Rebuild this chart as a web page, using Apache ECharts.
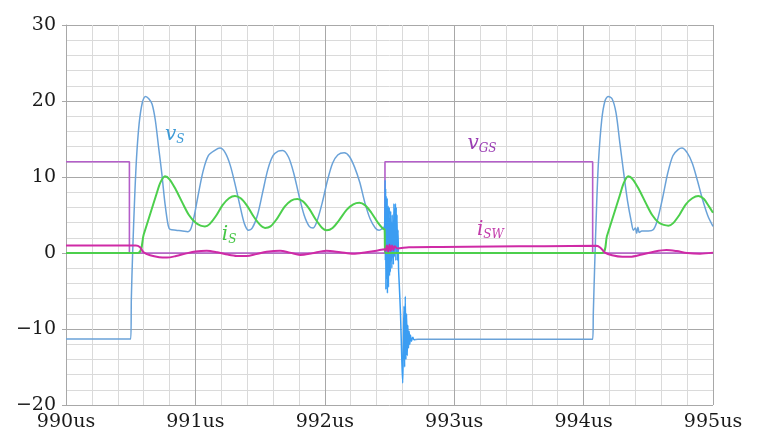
<!DOCTYPE html>
<html>
<head>
<meta charset="utf-8">
<script src="https://cdn.jsdelivr.net/npm/echarts@6/dist/echarts.min.js"></script>
<style>
  html, body { margin: 0; padding: 0; background: #ffffff; }
  #chart { width: 757px; height: 440px; }
</style>
</head>
<body>
<div id="chart"></div>
<script>
// Time axis (microseconds) and value axis ticks
const xTicks = [990, 991, 992, 993, 994, 995];
const yTicks = [-20, -10, 0, 10, 20, 30];

// Gate-source voltage v_GS [time us, V]
const vGS = [
  [990.00, 12], [990.49, 12], [990.49, 0], [992.465, 0], [992.465, 12],
  [994.07, 12], [994.07, 0], [995.00, 0]
];

// Switch voltage v_S [time us, V]
const vS = [
  [990.00, -11.3], [990.50, -11.3], [990.505, -6], [990.515, 0], [990.53, 7],
  [990.545, 12.5], [990.565, 17], [990.59, 19.8], [990.615, 20.6], [990.64, 20.3],
  [990.665, 19.6], [990.69, 17.5], [990.715, 14], [990.74, 10.5], [990.765, 6.5],
  [990.79, 3.6], [990.805, 3.1], [990.85, 3.0], [990.90, 2.9], [990.94, 2.8],
  [990.965, 3.2], [990.99, 4.8], [991.02, 7.5], [991.06, 10.8], [991.10, 12.8],
  [991.15, 13.5], [991.19, 13.8], [991.23, 13.2], [991.27, 11.5], [991.31, 8.8],
  [991.35, 5.8], [991.38, 3.8], [991.41, 3.0], [991.44, 3.3], [991.48, 5.0],
  [991.52, 8.0], [991.56, 11.0], [991.60, 12.8], [991.64, 13.4], [991.675, 13.5],
  [991.72, 12.6], [991.76, 10.5], [991.80, 7.6], [991.84, 5.0], [991.88, 3.5],
  [991.91, 3.3], [991.94, 4.2], [991.98, 6.6], [992.02, 9.5], [992.06, 11.8],
  [992.10, 12.9], [992.15, 13.2], [992.19, 12.7], [992.23, 11.3], [992.27, 9.3],
  [992.31, 6.6], [992.35, 4.5], [992.39, 3.3], [992.42, 3.0], [992.45, 3.3],
  [992.462, 3.5], [992.466, 9.6], [992.468, -1], [992.470, 8.5], [992.472, -4.8],
  [992.474, 7.5], [992.476, 0], [992.478, 6.8], [992.480, -3.5], [992.482, 7.2],
  [992.484, -5.3], [992.486, 5.5], [992.488, -2], [992.490, 6.2], [992.492, -4.5],
  [992.494, 5.0], [992.496, -1.5], [992.498, 6.0], [992.500, -3], [992.503, 4.5],
  [992.506, -2.5], [992.509, 5.5], [992.512, -1], [992.515, 4], [992.518, -2.0],
  [992.521, 5], [992.524, -0.5], [992.527, 3.5], [992.530, -1.5], [992.534, 6.5],
  [992.537, -0.5], [992.540, 5.8], [992.543, 0.5], [992.546, 6.5], [992.549, -1],
  [992.552, 6.0], [992.555, 0], [992.558, 5], [992.562, -1], [992.566, 3],
  [992.570, -2], [992.575, -4], [992.585, -8], [992.595, -14], [992.602, -17.1],
  [992.607, -12], [992.612, -7], [992.617, -15], [992.622, -5.7], [992.627, -14],
  [992.632, -8], [992.637, -13.5], [992.642, -9.5], [992.647, -12.5], [992.652, -10.3],
  [992.657, -12], [992.662, -10.8], [992.67, -11.6], [992.68, -11.1], [992.69, -11.4],
  [992.72, -11.35], [994.07, -11.35], [994.075, -8], [994.085, -2], [994.10, 6],
  [994.115, 12], [994.14, 17.5], [994.165, 20], [994.19, 20.6], [994.22, 20.3],
  [994.25, 18.5], [994.28, 14.5], [994.31, 10.5], [994.34, 6.8], [994.37, 4.0],
  [994.385, 3.0], [994.40, 3.3], [994.41, 2.6], [994.42, 3.4], [994.43, 2.7],
  [994.45, 2.9], [994.50, 2.9], [994.54, 3.1], [994.57, 4.3], [994.61, 7.2],
  [994.65, 10.5], [994.69, 12.8], [994.73, 13.6], [994.76, 13.8], [994.80, 13.2],
  [994.84, 11.8], [994.88, 9.5], [994.92, 7.0], [994.96, 4.9], [995.00, 3.5]
];

// Switch current i_S [time us, A]
const iS = [
  [990.00, 0], [990.555, 0], [990.60, 2.4], [990.65, 5.1], [990.70, 7.8],
  [990.73, 9.3], [990.765, 10.1], [990.80, 9.7], [990.85, 8.3], [990.90, 6.6],
  [990.95, 5.0], [991.00, 4.0], [991.04, 3.6], [991.074, 3.5], [991.11, 3.8],
  [991.16, 4.9], [991.21, 6.3], [991.26, 7.2], [991.306, 7.5], [991.35, 7.2],
  [991.40, 6.2], [991.45, 4.8], [991.50, 3.7], [991.538, 3.3], [991.58, 3.5],
  [991.63, 4.5], [991.69, 6.1], [991.74, 6.9], [991.788, 7.1], [991.83, 6.8],
  [991.88, 5.8], [991.93, 4.4], [991.98, 3.3], [992.015, 3.0], [992.06, 3.3],
  [992.11, 4.3], [992.17, 5.7], [992.22, 6.4], [992.267, 6.6], [992.31, 6.3],
  [992.36, 5.3], [992.41, 4.0], [992.45, 3.2], [992.462, 3.1], [992.466, 0],
  [994.14, 0], [994.18, 2.2], [994.23, 4.9], [994.28, 7.6], [994.31, 9.2],
  [994.345, 10.1], [994.38, 9.7], [994.43, 8.3], [994.48, 6.6], [994.53, 5.0],
  [994.58, 4.0], [994.62, 3.7], [994.655, 3.6], [994.69, 3.9], [994.74, 5.0],
  [994.79, 6.4], [994.84, 7.2], [994.887, 7.5], [994.93, 7.1], [994.97, 6.1],
  [995.00, 5.3]
];

// Switch-node current i_SW [time us, A]
const iSW = [
  [990.00, 1.0], [990.54, 1.0], [990.57, 0.8], [990.60, 0.1], [990.65, -0.3],
  [990.72, -0.55], [990.78, -0.6], [990.85, -0.4], [990.93, -0.05], [991.00, 0.2],
  [991.087, 0.3], [991.17, 0.1], [991.25, -0.2], [991.32, -0.38], [991.396, -0.4],
  [991.47, -0.15], [991.55, 0.15], [991.654, 0.3], [991.73, 0.05], [991.81, -0.26],
  [991.90, -0.05], [992.01, 0.3], [992.12, 0.1], [992.22, -0.1], [992.32, 0.1],
  [992.40, 0.3], [992.465, 0.5], [992.47, 0.3], [992.48, 1.0], [992.49, 0.2],
  [992.50, 1.1], [992.51, 0.3], [992.52, 1.0], [992.53, 0.4], [992.54, 0.9],
  [992.56, 0.6], [992.65, 0.75], [992.90, 0.8], [993.30, 0.85], [993.70, 0.9],
  [994.10, 0.95], [994.13, 0.7], [994.165, 0.05], [994.22, -0.3], [994.30, -0.5],
  [994.36, -0.5], [994.45, -0.2], [994.55, 0.2], [994.64, 0.4], [994.72, 0.25],
  [994.80, 0.0], [994.90, -0.1], [995.00, 0.05]
];

// Time window of the turn-off ringing on v_S, drawn in a brighter blue
const ringWindow = [992.46, 992.70];

const SERIF = 'DejaVu Serif';
const MAJOR = '#a8a8a8';
const MINOR = '#dadada';
const VS_COLOR = '#6aa2d8';
const VS_RING = '#3b9df2';

function tag(pos, text, color) {
  return {
    coord: pos,
    symbol: 'circle',
    symbolSize: 0,
    label: {
      show: true,
      position: 'inside',
      formatter: text,
      rich: {
        m: { fontFamily: SERIF, fontStyle: 'italic', fontSize: 20, color: color },
        s: { fontFamily: SERIF, fontStyle: 'italic', fontSize: 12, color: color, padding: [10, 0, 0, 0] }
      }
    }
  };
}

const chart = echarts.init(document.getElementById('chart'), null, { renderer: 'canvas' });
chart.setOption({
  animation: false,
  backgroundColor: '#ffffff',
  grid: { left: 66, right: 44, top: 25, bottom: 35, containLabel: false },
  visualMap: [{
    type: 'piecewise',
    show: false,
    seriesIndex: 1,
    dimension: 0,
    pieces: [
      { lt: ringWindow[0], color: VS_COLOR },
      { gte: ringWindow[0], lte: ringWindow[1], color: VS_RING },
      { gt: ringWindow[1], color: VS_COLOR }
    ]
  }],
  xAxis: {
    type: 'value',
    min: xTicks[0],
    max: xTicks[xTicks.length - 1],
    interval: 1,
    axisLine: { show: true, lineStyle: { color: MAJOR, width: 1 } },
    axisTick: { show: true, length: 4, lineStyle: { color: MAJOR } },
    axisLabel: {
      fontFamily: SERIF, fontSize: 19, color: '#1a1a1a', margin: 8,
      formatter: v => v + 'us'
    },
    splitLine: { show: true, lineStyle: { color: MAJOR, width: 1 } },
    minorTick: { show: false, splitNumber: 5 },
    minorSplitLine: { show: true, lineStyle: { color: MINOR, width: 1 } }
  },
  yAxis: {
    type: 'value',
    min: yTicks[0],
    max: yTicks[yTicks.length - 1],
    interval: 10,
    axisLine: { show: true, lineStyle: { color: MAJOR, width: 1 } },
    axisTick: { show: true, length: 4, lineStyle: { color: MAJOR } },
    axisLabel: {
      fontFamily: SERIF, fontSize: 19, color: '#1a1a1a', margin: 10,
      formatter: v => (v < 0 ? '\u2212' + Math.abs(v) : String(v))
    },
    splitLine: { show: true, lineStyle: { color: MAJOR, width: 1 } },
    minorTick: { show: false, splitNumber: 5 },
    minorSplitLine: { show: true, lineStyle: { color: MINOR, width: 1 } }
  },
  series: [
    {
      name: 'vGS', type: 'line', data: vGS, showSymbol: false, smooth: false,
      lineStyle: { color: '#b45ec9', width: 1.6 },
      markPoint: { data: [tag([993.215, 14.4], '{m|v}{s|GS}', '#9a3db3')] }
    },
    {
      name: 'vS', type: 'line', data: vS, showSymbol: false, smooth: 0.3,
      lineStyle: { width: 1.5 },
      markPoint: { data: [tag([990.84, 15.5], '{m|v}{s|S}', '#3d9ad6')] }
    },
    {
      name: 'iS', type: 'line', data: iS, showSymbol: false, smooth: 0.3,
      lineStyle: { color: '#4ccf4c', width: 2 },
      markPoint: { data: [tag([991.26, 2.4], '{m|i}{s|S}', '#45c645')] }
    },
    {
      name: 'iSW', type: 'line', data: iSW, showSymbol: false, smooth: 0.3,
      lineStyle: { color: '#cf2aa6', width: 2 },
      markPoint: { data: [tag([993.28, 3.0], '{m|i}{s|SW}', '#c23aaa')] }
    }
  ]
});
</script>
</body>
</html>
